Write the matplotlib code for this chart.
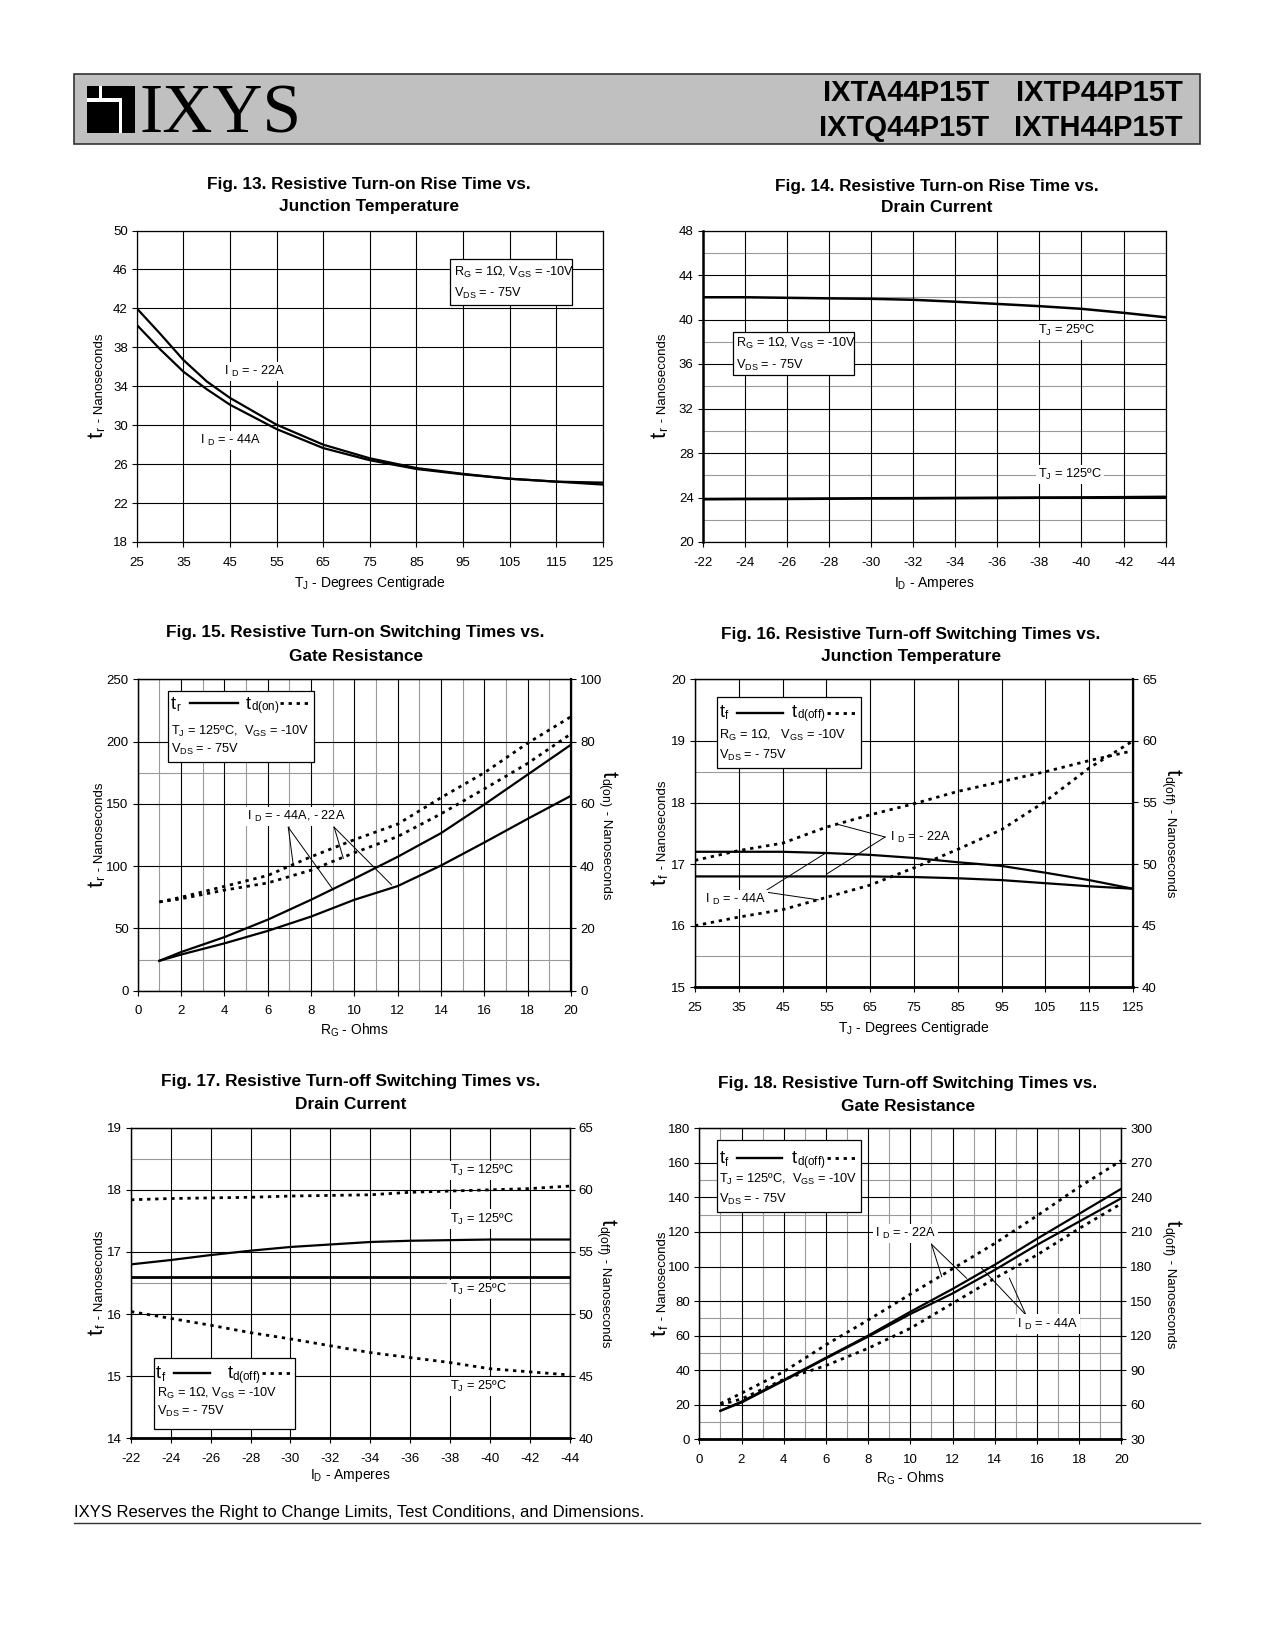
import matplotlib
matplotlib.use('Agg')
import matplotlib.pyplot as plt
from matplotlib.patches import Rectangle
from matplotlib.lines import Line2D

# ---- data ----
# Fig 13: t_r vs T_J
tj13 = [25, 30, 35, 40, 45, 55, 65, 75, 85, 95, 105, 115, 125]
tr13_22a = [42.0, 39.4, 36.7, 34.5, 32.8, 30.05, 28.0, 26.6, 25.6, 25.0, 24.5, 24.2, 24.1]
tr13_44a = [40.3, 37.8, 35.5, 33.7, 32.1, 29.6, 27.65, 26.4, 25.5, 24.95, 24.5, 24.2, 23.9]

# Fig 14: t_r vs I_D
id14 = [-22, -24, -26, -28, -30, -32, -34, -36, -38, -40, -42, -44]
tr14_25c = [42.0, 42.0, 41.95, 41.9, 41.86, 41.77, 41.6, 41.4, 41.2, 40.96, 40.6, 40.2]
tr14_125c = [23.85, 23.87, 23.88, 23.9, 23.92, 23.93, 23.95, 23.97, 23.99, 24.0, 24.02, 24.05]

# Fig 15: t_r / t_d(on) vs R_G
rg15 = [1, 2, 4, 6, 8, 10, 12, 14, 16, 18, 20]
tr15_44a = [24, 31, 43, 57, 73, 90, 107.5, 126.5, 149.5, 173.5, 197.5]
tr15_22a = [24, 29, 38, 48, 59.5, 73, 84, 100.5, 119, 138, 156.5]
tdon15_44a = [28.5, 30, 33.5, 37, 43, 48.5, 53.5, 62, 70, 79.5, 88]
tdon15_22a = [28.5, 29.5, 32.3, 34.6, 38.7, 44.3, 49.5, 56.8, 64.8, 73, 82.5]

# Fig 16: t_f / t_d(off) vs T_J
tj16 = [25, 35, 45, 55, 65, 75, 85, 95, 105, 115, 125]
tf16_44a = [17.2, 17.2, 17.2, 17.18, 17.15, 17.1, 17.03, 16.97, 16.86, 16.74, 16.6]
tf16_22a = [16.8, 16.8, 16.8, 16.8, 16.8, 16.79, 16.77, 16.74, 16.69, 16.64, 16.6]
tdoff16_22a = [50.3, 51.1, 51.7, 53.0, 54.0, 54.9, 55.9, 56.7, 57.5, 58.4, 59.2]
tdoff16_44a = [45.0, 45.7, 46.3, 47.3, 48.3, 49.7, 51.2, 52.8, 55.1, 57.8, 60.0]

# Fig 17: t_f / t_d(off) vs I_D
id17 = [-22, -24, -26, -28, -30, -32, -34, -36, -38, -40, -42, -44]
tf17_125c = [16.8, 16.87, 16.95, 17.02, 17.08, 17.12, 17.16, 17.18, 17.19, 17.2, 17.2, 17.2]
tf17_25c = [16.6, 16.6, 16.6, 16.6, 16.6, 16.6, 16.6, 16.6, 16.6, 16.6, 16.6, 16.6]
tdoff17_125c = [59.2, 59.3, 59.35, 59.4, 59.5, 59.55, 59.6, 59.8, 59.9, 60.0, 60.1, 60.3]
tdoff17_25c = [50.2, 49.65, 49.1, 48.5, 48.0, 47.45, 46.9, 46.5, 46.1, 45.6, 45.35, 45.1]

# Fig 18: t_f / t_d(off) vs R_G
rg18 = [1, 2, 4, 6, 8, 10, 12, 14, 16, 18, 20]
tf18_22a = [16.5, 21.8, 34.3, 47.2, 60.0, 73.8, 87.0, 101.0, 116.0, 130.5, 145.0]
tf18_44a = [16.5, 21.3, 33.9, 46.8, 59.4, 72.5, 84.4, 98.0, 112.5, 126.0, 139.5]
tdoff18_22a = [61, 70, 88.7, 112, 133.5, 156, 178, 200, 224, 249, 272]
tdoff18_44a = [60, 65, 82, 94, 109, 126.3, 148, 169.7, 190, 213, 234.6]

W, H = 1275, 1650
plt.rcParams['font.family'] = ['Liberation Sans', 'DejaVu Sans']
plt.rcParams['mathtext.default'] = 'regular'
plt.rcParams['axes.unicode_minus'] = False

fig = plt.figure(figsize=(W / 100, H / 100), dpi=100)
renderer = fig.canvas.get_renderer()

GRAY = '#9a9a9a'
DOT = (0, (1.2, 1.7))


def fx(x):
    return x / W


def fy(y):
    return 1 - y / H


def text_px(x, y, s, **kw):
    return fig.text(fx(x), fy(y), s, **kw)


def rect_px(x0, y0, x1, y1, **kw):
    r = Rectangle((fx(x0), fy(y1)), (x1 - x0) / W, (y1 - y0) / H,
                  transform=fig.transFigure, **kw)
    fig.add_artist(r)
    return r


def hline_px(x0, x1, y, **kw):
    fig.add_artist(Line2D([fx(x0), fx(x1)], [fy(y), fy(y)],
                          transform=fig.transFigure, **kw))


def new_axes(x0, y0, x1, y1, xlim, ylim, xticks, yticks, xminor=(), yminor=()):
    ax = fig.add_axes([fx(x0), fy(y1), (x1 - x0) / W, (y1 - y0) / H])
    ax.set_xlim(*xlim)
    ax.set_ylim(*ylim)
    ax.set_xticks(xticks)
    ax.set_yticks(yticks)
    for v in xminor:
        ax.axvline(v, color=GRAY, lw=0.8, zorder=0.8)
    for v in yminor:
        ax.axhline(v, color=GRAY, lw=0.8, zorder=0.8)
    for v in xticks:
        ax.axvline(v, color='black', lw=0.8, zorder=0.9)
    for v in yticks:
        ax.axhline(v, color='black', lw=0.8, zorder=0.9)
    ax.tick_params(direction='out', length=3.5, width=0.8, labelsize=9.5, pad=3)
    ax.tick_params(axis='x', pad=7)
    for s in ax.spines.values():
        s.set_linewidth(0.9)
    return ax


def right_axis(ax, ylim, yticks):
    a2 = ax.twinx()
    a2.set_ylim(*ylim)
    a2.set_yticks(yticks)
    a2.tick_params(direction='out', length=3.5, width=0.8, labelsize=9.5, pad=3)
    for s in a2.spines.values():
        s.set_linewidth(0.9)
    return a2


def vlabel(xb, yc, pieces, rot):
    # rotated label built from pieces of different size on one baseline
    arts, lens = [], []
    for s, fs in pieces:
        t = fig.text(0, 0, s, fontsize=fs, rotation=rot, rotation_mode='anchor',
                     ha='left', va='baseline')
        lens.append(t.get_window_extent(renderer).height)
        arts.append(t)
    total = sum(lens)
    yc_f = H - yc
    pos = yc_f - total / 2 if rot == 90 else yc_f + total / 2
    for t, L in zip(arts, lens):
        t.set_position((fx(xb), pos / H))
        pos = pos + L if rot == 90 else pos - L


def hpieces(x, base, pieces):
    # horizontal run of texts of different size on one baseline
    for s, fs in pieces:
        t = text_px(x, base, s, fontsize=fs, va='baseline', ha='left', zorder=6)
        x += t.get_window_extent(renderer).width


def titles(xc, y1, y2, l1, l2):
    text_px(xc, y1, l1, fontsize=12.4, fontweight='bold', ha='center', va='center')
    text_px(xc, y2, l2, fontsize=12.4, fontweight='bold', ha='center', va='center')


def cond_box(box, rows, tx, baselines):
    rect_px(*box, facecolor='white', edgecolor='black', lw=0.9, zorder=5)
    for s, b in zip(rows, baselines):
        text_px(tx, b, s, fontsize=9.2, va='baseline', zorder=6)


def legend_row(tx, base, ly, l1, l2, t2x, d1, d2, a, b):
    hpieces(tx, base, [('t', 13), ('$_{%s}$' % a, 12)])
    hline_px(l1, l2, ly, color='black', lw=1.7, zorder=6)
    hpieces(t2x, base, [('t', 13), ('$_{%s}$' % b, 12)])
    hline_px(d1, d2, ly, color='black', lw=2.0, linestyle=DOT, zorder=6)


def note(ax, x, y, s, bg=True):
    kw = dict(fontsize=9.2, ha='left', va='center', zorder=4)
    if bg:
        kw['bbox'] = dict(facecolor='white', edgecolor='none', pad=1.5)
    ax.text(x, y, s, **kw)


def leader(ax, p0, p1):
    ax.plot([p0[0], p1[0]], [p0[1], p1[1]], color='black', lw=0.7, zorder=3)


# ---------------- header ----------------
rect_px(73.6, 73.6, 1200.3, 144.1, facecolor='#c0c0c0', edgecolor='#333333', lw=1.2)
rect_px(87.3, 86, 134.7, 132.5, facecolor='black', edgecolor='none', zorder=2)
rect_px(98.5, 86, 101.5, 100, facecolor='white', edgecolor='none', zorder=3)
rect_px(87.3, 98.5, 121.5, 101.5, facecolor='white', edgecolor='none', zorder=3)
rect_px(118.5, 98.5, 121.5, 132.5, facecolor='white', edgecolor='none', zorder=3)
text_px(140, 132.5, 'IXYS', fontsize=50, family=['Liberation Serif', 'DejaVu Serif'],
        va='baseline', ha='left')
pn_font = dict(fontsize=21, fontweight='bold', va='baseline', ha='right')
text_px(989, 101, 'IXTA44P15T', **pn_font)
text_px(1183, 101, 'IXTP44P15T', **pn_font)
text_px(989, 136, 'IXTQ44P15T', **pn_font)
text_px(1183, 136, 'IXTH44P15T', **pn_font)

NS = (' - Nanoseconds', 9.5)
YL = [('t', 16), ('$_r$', 12.5), NS]
YLF = [('t', 16), ('$_f$', 12.5), NS]
YR_ON = [('t', 16), ('$_{d(on)}$', 12.5), NS]
YR_OFF = [('t', 16), ('$_{d(off)}$', 12.5), NS]

# ---------------- Fig 13 ----------------
ax = new_axes(136.8, 230.5, 602.8, 542, (25, 125), (18, 50),
              list(range(25, 126, 10)), list(range(18, 51, 4)))
ax.plot(tj13, tr13_22a, color='black', lw=1.6, zorder=2)
ax.plot(tj13, tr13_44a, color='black', lw=1.6, zorder=2)
note(ax, 43.8, 35.5, 'I $_D$ = - 22A')
note(ax, 38.5, 28.4, 'I $_D$ = - 44A')
titles(369, 184, 207, 'Fig. 13. Resistive Turn-on Rise Time vs.', 'Junction Temperature')
text_px(369.8, 583, 'T$_J$ - Degrees Centigrade', fontsize=10, ha='center', va='center')
vlabel(103, 386, YL, 90)
cond_box((450.3, 258.8, 572.3, 305.1),
         ['R$_G$ = 1Ω, V$_{GS}$ = -10V', 'V$_{DS}$ = - 75V'], 454.5, [276, 297])

# ---------------- Fig 14 ----------------
ax = new_axes(702.7, 230.5, 1165.6, 542, (-22, -44), (20, 48),
              list(range(-22, -45, -2)), list(range(20, 49, 4)),
              yminor=list(range(22, 47, 4)))
ax.spines['left'].set_linewidth(1.8)
ax.plot(id14, tr14_25c, color='black', lw=1.8, zorder=2)
ax.plot(id14, tr14_125c, color='black', lw=2.0, zorder=2)
note(ax, -37.95, 39.0, 'T$_J$ = 25ºC')
note(ax, -37.95, 26.07, 'T$_J$ = 125ºC')
titles(937, 186, 208, 'Fig. 14. Resistive Turn-on Rise Time vs.', 'Drain Current')
text_px(934, 583, 'I$_D$ - Amperes', fontsize=10, ha='center', va='center')
vlabel(666, 386, YL, 90)
cond_box((733.2, 332.4, 854.2, 374.5),
         ['R$_G$ = 1Ω, V$_{GS}$ = -10V', 'V$_{DS}$ = - 75V'], 735.8, [347, 368.5])

# ---------------- Fig 15 ----------------
ax = new_axes(137.7, 679.3, 571, 990.7, (0, 20), (0, 250),
              list(range(0, 21, 2)), list(range(0, 251, 50)),
              xminor=list(range(1, 20, 2)), yminor=[25, 175])
ax2 = right_axis(ax, (0, 100), list(range(0, 101, 20)))
ax2.spines['right'].set_linewidth(1.6)
ax.plot(rg15, tr15_44a, color='black', lw=1.6, zorder=2)
ax.plot(rg15, tr15_22a, color='black', lw=1.6, zorder=2)
ax2.plot(rg15, tdon15_44a, color='black', lw=2.0, linestyle=DOT)
ax2.plot(rg15, tdon15_22a, color='black', lw=2.0, linestyle=DOT)
note(ax, 5.03, 139.7, 'I $_D$ = - 44A, - 22A')
leader(ax, (6.95, 131.2), (7.18, 100.9))
leader(ax, (6.95, 131.2), (9.03, 80.8))
leader(ax, (9.07, 131.2), (9.49, 106.3))
leader(ax, (9.07, 131.2), (11.72, 84.9))
titles(355.6, 633, 656.5, 'Fig. 15. Resistive Turn-on Switching Times vs.', 'Gate Resistance')
text_px(354, 1030, 'R$_G$ - Ohms', fontsize=10, ha='center', va='center')
vlabel(103, 835, YL, 90)
vlabel(603, 835, YR_ON, -90)
rect_px(168.3, 690.7, 314.3, 761.7, facecolor='white', edgecolor='black', lw=0.9, zorder=5)
legend_row(170.7, 709, 703.3, 190, 238.3, 245.7, 280, 310, 'r', 'd(on)')
text_px(170.7, 735, 'T$_J$ = 125ºC,  V$_{GS}$ = -10V', fontsize=9.2, va='baseline', zorder=6)
text_px(170.7, 753.3, 'V$_{DS}$ = - 75V', fontsize=9.2, va='baseline', zorder=6)

# ---------------- Fig 16 ----------------
ax = new_axes(695, 679.3, 1133, 987.3, (25, 125), (15, 20),
              list(range(25, 126, 10)), list(range(15, 21)),
              yminor=[15.5, 18.5])
ax2 = right_axis(ax, (40, 65), list(range(40, 66, 5)))
ax2.spines['right'].set_linewidth(1.6)
ax.spines['bottom'].set_linewidth(2.0)
ax.plot(tj16, tf16_44a, color='black', lw=1.6, zorder=2)
ax.plot(tj16, tf16_22a, color='black', lw=1.6, zorder=2)
ax2.plot(tj16, tdoff16_22a, color='black', lw=2.0, linestyle=DOT)
ax2.plot(tj16, tdoff16_44a, color='black', lw=2.0, linestyle=DOT)
note(ax, 69.5, 17.44, 'I $_D$ = - 22A', bg=False)
note(ax, 27.3, 16.42, 'I $_D$ = - 44A')
leader(ax, (68.4, 17.44), (57.35, 17.65))
leader(ax, (68.4, 17.44), (55.1, 16.84))
leader(ax, (40.75, 16.55), (55.07, 17.19))
leader(ax, (40.75, 16.55), (53.15, 16.42))
titles(911, 634, 656, 'Fig. 16. Resistive Turn-off Switching Times vs.', 'Junction Temperature')
text_px(914, 1028, 'T$_J$ - Degrees Centigrade', fontsize=10, ha='center', va='center')
vlabel(666, 833, YLF, 90)
vlabel(1166.7, 833, YR_OFF, -90)
rect_px(717.3, 697.3, 860.7, 768.3, facecolor='white', edgecolor='black', lw=0.9, zorder=5)
legend_row(719.3, 716.7, 712.7, 736.7, 783.3, 791.7, 826.7, 858.3, 'f', 'd(off)')
text_px(719.3, 739, 'R$_G$ = 1Ω,   V$_{GS}$ = -10V', fontsize=9.2, va='baseline', zorder=6)
text_px(719.3, 759.3, 'V$_{DS}$ = - 75V', fontsize=9.2, va='baseline', zorder=6)

# ---------------- Fig 17 ----------------
ax = new_axes(131, 1127.7, 569.5, 1438.3, (-22, -44), (14, 19),
              list(range(-22, -45, -2)), list(range(14, 20)),
              yminor=[16.5, 18.5])
ax2 = right_axis(ax, (40, 65), list(range(40, 66, 5)))
ax.spines['bottom'].set_linewidth(2.0)
ax.plot(id17, tf17_125c, color='black', lw=1.6, zorder=2)
ax.plot(id17, tf17_25c, color='black', lw=2.0, zorder=2)
ax2.plot(id17, tdoff17_125c, color='black', lw=2.0, linestyle=DOT)
ax2.plot(id17, tdoff17_25c, color='black', lw=2.0, linestyle=DOT)
note(ax, -37.98, 18.31, 'T$_J$ = 125ºC')
note(ax, -37.98, 17.53, 'T$_J$ = 125ºC')
note(ax, -37.98, 16.40, 'T$_J$ = 25ºC')
note(ax, -37.98, 14.84, 'T$_J$ = 25ºC')
titles(351, 1081.5, 1104.6, 'Fig. 17. Resistive Turn-off Switching Times vs.', 'Drain Current')
text_px(350, 1476, 'I$_D$ - Amperes', fontsize=10, ha='center', va='center')
vlabel(103, 1283, YLF, 90)
vlabel(601.7, 1283, YR_OFF, -90)
rect_px(154.3, 1358.3, 295, 1429, facecolor='white', edgecolor='black', lw=0.9, zorder=5)
legend_row(156, 1378.3, 1373.3, 174.3, 210, 227.3, 261.7, 291.7, 'f', 'd(off)')
text_px(156.7, 1396.7, 'R$_G$ = 1Ω, V$_{GS}$ = -10V', fontsize=9.2, va='baseline', zorder=6)
text_px(156.7, 1415, 'V$_{DS}$ = - 75V', fontsize=9.2, va='baseline', zorder=6)

# ---------------- Fig 18 ----------------
ax = new_axes(699.3, 1128.3, 1121.3, 1439.3, (0, 20), (0, 180),
              list(range(0, 21, 2)), list(range(0, 181, 20)),
              xminor=list(range(1, 20, 2)), yminor=[10, 50, 70, 130, 150])
ax2 = right_axis(ax, (30, 300), list(range(30, 301, 30)))
ax.spines['bottom'].set_linewidth(2.0)
ax.plot(rg18, tf18_22a, color='black', lw=1.6, zorder=2)
ax.plot(rg18, tf18_44a, color='black', lw=1.6, zorder=2)
ax2.plot(rg18, tdoff18_22a, color='black', lw=2.0, linestyle=DOT)
ax2.plot(rg18, tdoff18_44a, color='black', lw=2.0, linestyle=DOT)
note(ax, 8.33, 119.2, 'I $_D$ = - 22A')
note(ax, 15.06, 66.7, 'I $_D$ = - 44A')
leader(ax, (11.01, 112.8), (11.49, 94.1))
leader(ax, (11.01, 112.8), (12.67, 93.2))
leader(ax, (15.48, 72.0), (14.7, 93.2))
leader(ax, (15.48, 72.0), (13.38, 99.0))
titles(908, 1083.6, 1106.7, 'Fig. 18. Resistive Turn-off Switching Times vs.', 'Gate Resistance')
text_px(910, 1478, 'R$_G$ - Ohms', fontsize=10, ha='center', va='center')
vlabel(666, 1284, YLF, 90)
vlabel(1166.7, 1284, YR_OFF, -90)
rect_px(716.7, 1140, 861, 1211.7, facecolor='white', edgecolor='black', lw=0.9, zorder=5)
legend_row(719.3, 1163.3, 1157.7, 736.7, 781.7, 791.7, 826.7, 858.3, 'f', 'd(off)')
text_px(719.3, 1182.7, 'T$_J$ = 125ºC,  V$_{GS}$ = -10V', fontsize=9.2, va='baseline', zorder=6)
text_px(719.3, 1202.7, 'V$_{DS}$ = - 75V', fontsize=9.2, va='baseline', zorder=6)

# ---------------- footer ----------------
text_px(73.6, 1517, 'IXYS Reserves the Right to Change Limits, Test Conditions, and Dimensions.',
        fontsize=12, va='baseline', ha='left')
hline_px(73.6, 1200.3, 1523.3, color='#333333', lw=1.0)

fig.savefig('out.png', dpi=100, facecolor='white')
